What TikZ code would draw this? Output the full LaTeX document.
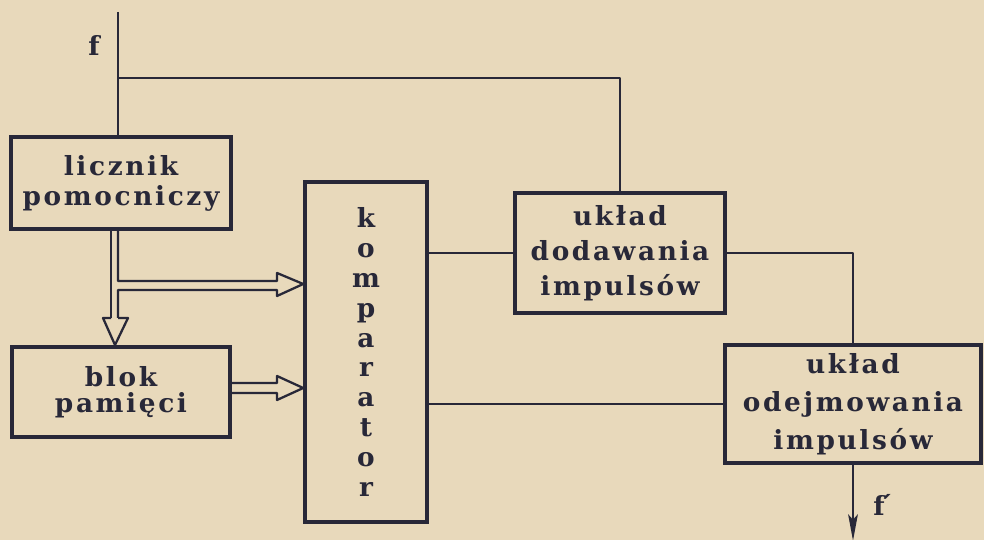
\documentclass[tikz,border=0pt]{standalone}
\usepackage{fontspec}
\setmainfont{DejaVu Serif}
\newfontfamily\boxfont[LetterSpace=10]{DejaVu Serif}
\usetikzlibrary{arrows.meta}
\definecolor{paper}{RGB}{232,217,187}
\definecolor{ink}{RGB}{40,40,56}
\tikzset{
  block/.style={draw=ink, line width=2pt, rectangle, inner sep=0pt,
    align=center, text=ink},
  wire/.style={draw=ink, line width=1.3pt, line join=round},
  sig/.style={text=ink, inner sep=0pt, font=\boxfont\bfseries\fontsize{15}{16}\selectfont}
}
\begin{document}
\begin{tikzpicture}[x=0.02cm, y=-0.02cm]
  % paper and frame of the page
  \fill[paper] (0,0) rectangle (984,540);
  \useasboundingbox (0,0) rectangle (984,540);

  % blocks
  \node[block, minimum width=220*0.02cm, minimum height=92*0.02cm,
        font=\boxfont\bfseries\fontsize{15}{17}\selectfont]
        (licz) at (121,183) {licznik\\pomocniczy};
  \node[block, minimum width=218*0.02cm, minimum height=90*0.02cm,
        font=\boxfont\bfseries\fontsize{15}{14.5}\selectfont]
        (blok) at (121,392) {blok\\pamięci};
  \node[block, minimum width=122*0.02cm, minimum height=340*0.02cm,
        font=\boxfont\bfseries\fontsize{15}{17}\selectfont]
        (komp) at (366,352) {k\\o\\m\\p\\a\\r\\a\\t\\o\\r};
  \node[block, minimum width=210*0.02cm, minimum height=120*0.02cm,
        font=\boxfont\bfseries\fontsize{15}{20}\selectfont]
        (dod) at (620,253) {układ\\dodawania\\impulsów};
  \node[block, minimum width=256*0.02cm, minimum height=118*0.02cm,
        font=\boxfont\bfseries\fontsize{15}{21.5}\selectfont]
        (odj) at (853,404) {układ\\odejmowania\\impulsów};

  % input signal and its branch to the adder
  \coordinate (fin) at (118,12);
  \coordinate (split) at (118,78);
  \draw[wire] (fin) -- (fin |- licz.north);
  \draw[wire] (split) -| (dod.north);

  % comparator outputs
  \draw[wire] (komp.east |- dod.west) -- (dod.west);
  \draw[wire] (komp.east |- odj.west) -- (odj.west);
  \draw[wire] (dod.east) -| (odj.north);

  % output signal
  \path (odj.south) ++(0,76) coordinate (fout);
  \draw[wire, -{Stealth[length=15pt, width=5.5pt, inset=3pt]}] (odj.south) -- (fout);

  % double (bus) line from the counter: down to memory, right to comparator
  \coordinate (bL) at (111,318);
  \coordinate (bR) at (118,318);
  \draw[wire] (bL |- licz.south) -- (bL);
  \draw[wire] (bR |- licz.south) -- (118,281) -- (277,281)
              -- (277,273) -- (komp.west |- 0,284) -- (277,296) -- (277,290)
              -- (118,290) -- (bR);
  \draw[wire] (bL) -- (103,318) -- (115,345) -- (128,318) -- (bR);

  % bus from memory to comparator
  \draw[wire] (blok.east |- 0,383) -- (277,383) -- (277,376)
              -- (komp.west |- 0,388) -- (277,400) -- (277,393)
              -- (blok.east |- 0,393);

  % signal labels
  \node[sig] (lf) at (94,45) {f};
  \node[sig] (lfo) at (883,505) {f\kern-3pt´};
\end{tikzpicture}
\end{document}
